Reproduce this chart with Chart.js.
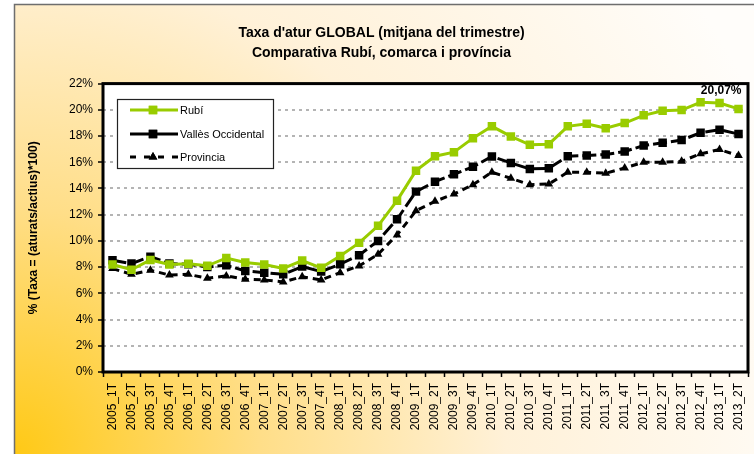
<!DOCTYPE html>
<html>
<head>
<meta charset="utf-8">
<script src="https://cdn.jsdelivr.net/npm/chart.js@4.4.0/dist/chart.umd.min.js"></script>
<style>
  html, body { margin: 0; padding: 0; background: #fff; }
  #wrap { width: 754px; height: 454px; }
</style>
</head>
<body>
<div id="wrap"><canvas id="mainChart" width="754" height="454"></canvas></div>
<script>
// -- Data --
const quarters = [
  "2005_1T", "2005_2T", "2005_3T", "2005_4T",
  "2006_1T", "2006_2T", "2006_3T", "2006_4T",
  "2007_1T", "2007_2T", "2007_3T", "2007_4T",
  "2008_1T", "2008_2T", "2008_3T", "2008_4T",
  "2009_1T", "2009_2T", "2009_3T", "2009_4T",
  "2010_1T", "2010_2T", "2010_3T", "2010_4T",
  "2011_1T", "2011_2T", "2011_3T", "2011_4T",
  "2012_1T", "2012_2T", "2012_3T", "2012_4T",
  "2013_1T", "2013_2T",
];

const rubi = [
  8.2, 7.8, 8.55, 8.2, 8.25, 8.1, 8.7, 8.35, 8.2, 7.9, 8.5, 7.95,
  8.85, 9.85, 11.15, 13.07, 15.36, 16.46, 16.77, 17.84, 18.74, 17.97,
  17.33, 17.38, 18.74, 18.94, 18.6, 18.99, 19.58, 19.93, 19.98, 20.57,
  20.52, 20.07,
];

const valles = [
  8.52, 8.27, 8.8, 8.27, 8.22, 8.01, 8.14, 7.71, 7.58, 7.45, 8.04, 7.66,
  8.22, 8.91, 10.0, 11.65, 13.76, 14.52, 15.08, 15.65, 16.44, 15.95,
  15.49, 15.54, 16.46, 16.51, 16.59, 16.82, 17.28, 17.48, 17.69, 18.25,
  18.48, 18.15,
];

const provincia = [
  7.89, 7.45, 7.76, 7.4, 7.45, 7.15, 7.33, 7.07, 7.02, 6.87, 7.27, 7.02,
  7.58, 8.09, 8.98, 10.46, 12.3, 13.02, 13.58, 14.29, 15.24, 14.78,
  14.29, 14.34, 15.24, 15.24, 15.16, 15.57, 16.0, 16.0, 16.08, 16.64,
  16.97, 16.51,
];

const seriesNames = ["Rubí", "Vallès Occidental", "Provincia"];

const FONT = "Arial, 'Liberation Sans', sans-serif";

// -- Background: gradient frame + white plot area --
const backgroundPlugin = {
  id: "background",
  beforeDraw(chart) {
    const { ctx, chartArea, width, height } = chart;
    ctx.save();
    ctx.fillStyle = "#ffffff";
    ctx.fillRect(0, 0, width, height);

    const grad = ctx.createRadialGradient(14, height, 0, 14, height, 820);
    grad.addColorStop(0, "#ffc915");
    grad.addColorStop(0.3, "#ffde88");
    grad.addColorStop(0.6, "#fff1d8");
    grad.addColorStop(1, "#fffdfa");
    ctx.fillStyle = grad;
    ctx.fillRect(14, 4, width - 14, height - 4);
    ctx.strokeStyle = "#6e6e6e";
    ctx.lineWidth = 1.5;
    ctx.strokeRect(14.5, 4.5, width, height);

    ctx.fillStyle = "#ffffff";
    ctx.fillRect(chartArea.left, chartArea.top,
      chartArea.right - chartArea.left, chartArea.bottom - chartArea.top);
    ctx.restore();
  },
  afterDraw(chart) {
    const { ctx, chartArea } = chart;
    ctx.save();
    ctx.strokeStyle = "#000";
    ctx.lineWidth = 3;
    ctx.strokeRect(chartArea.left, chartArea.top,
      chartArea.right - chartArea.left, chartArea.bottom - chartArea.top);
    ctx.restore();
  },
};

// -- Boxed legend inside the plot --
const boxLegendPlugin = {
  id: "boxLegend",
  afterDraw(chart) {
    const { ctx } = chart;
    const rows = [110, 134, 157];
    ctx.save();
    ctx.fillStyle = "#fff";
    ctx.fillRect(117, 99, 156, 69);
    ctx.strokeStyle = "#222";
    ctx.lineWidth = 1.2;
    ctx.strokeRect(117.5, 99.5, 156, 69);

    chart.data.datasets.forEach((ds, i) => {
      const y = rows[i];
      ctx.strokeStyle = ds.borderColor;
      ctx.lineWidth = ds.borderWidth;
      ctx.setLineDash(ds.legendDash || []);
      ctx.beginPath();
      ctx.moveTo(130, y);
      ctx.lineTo(178, y);
      ctx.stroke();
      ctx.setLineDash([]);
      ctx.fillStyle = ds.pointBackgroundColor;
      Chart.helpers.drawPoint(ctx, {
        pointStyle: ds.pointStyle,
        radius: ds.pointRadius,
        borderWidth: 0,
        rotation: 0,
      }, 153, y);
      ctx.fill();

      ctx.fillStyle = "#000";
      ctx.font = "11px " + FONT;
      ctx.textAlign = "left";
      ctx.textBaseline = "middle";
      ctx.fillText(ds.label, 180, y + 1);
    });
    ctx.restore();
  },
};

// -- Value label on the last Rubí point --
const lastLabelPlugin = {
  id: "lastLabel",
  afterDatasetsDraw(chart) {
    const { ctx } = chart;
    const meta = chart.getDatasetMeta(0);
    const last = meta.data[meta.data.length - 1];
    const value = rubi[rubi.length - 1];
    ctx.save();
    ctx.fillStyle = "#000";
    ctx.font = "bold 12px " + FONT;
    ctx.textAlign = "right";
    ctx.textBaseline = "middle";
    ctx.fillText(value.toFixed(2).replace(".", ",") + "%", last.x + 3, last.y - 18);
    ctx.restore();
  },
};

const ctx = document.getElementById("mainChart").getContext("2d");

new Chart(ctx, {
  type: "line",
  data: {
    labels: quarters,
    datasets: [
      {
        label: seriesNames[0],
        data: rubi,
        borderColor: "#99cc00",
        backgroundColor: "#99cc00",
        pointBackgroundColor: "#99cc00",
        pointBorderColor: "#99cc00",
        borderWidth: 3,
        pointStyle: "rect",
        pointRadius: 6,
        pointBorderWidth: 0,
        tension: 0,
        legendDash: [],
      },
      {
        label: seriesNames[1],
        data: valles,
        borderColor: "#000000",
        backgroundColor: "#000000",
        pointBackgroundColor: "#000000",
        pointBorderColor: "#000000",
        borderWidth: 3,
        borderDash: [14, 4],
        pointStyle: "rect",
        pointRadius: 6,
        pointBorderWidth: 0,
        tension: 0,
        legendDash: [],
      },
      {
        label: seriesNames[2],
        data: provincia,
        borderColor: "#000000",
        backgroundColor: "#000000",
        pointBackgroundColor: "#000000",
        pointBorderColor: "#000000",
        borderWidth: 3,
        borderDash: [7, 5],
        pointStyle: "triangle",
        pointRadius: 5,
        pointBorderWidth: 0,
        tension: 0,
        legendDash: [6, 8],
      },
    ],
  },
  options: {
    responsive: false,
    devicePixelRatio: 1,
    animation: false,
    layout: {
      padding: { left: 14, right: 5, top: 0, bottom: 0 },
    },
    plugins: {
      legend: { display: false },
      tooltip: { enabled: false },
      title: {
        display: true,
        text: [
          "Taxa d'atur GLOBAL (mitjana del trimestre)",
          "Comparativa Rubí, comarca i província",
        ],
        color: "#000",
        font: { family: FONT, size: 14, weight: "bold", lineHeight: 1.45 },
        padding: { top: 23, bottom: 20 },
      },
    },
    scales: {
      x: {
        type: "category",
        offset: true,
        afterFit(scale) {
          scale.height = 82;
          // keep the rotated end labels from shrinking the plot
          scale.paddingLeft = 0;
          scale.paddingRight = 0;
        },
        grid: {
          display: true,
          drawOnChartArea: false,
          drawTicks: true,
          tickLength: 5,
          tickColor: "#000",
          tickWidth: 1.5,
          offset: true,
        },
        border: { display: false },
        ticks: {
          autoSkip: false,
          minRotation: 90,
          maxRotation: 90,
          padding: 6,
          color: "#000",
          font: { family: FONT, size: 12 },
        },
      },
      y: {
        min: 0,
        max: 22,
        afterFit(scale) {
          scale.width = 89;
        },
        grid: {
          color: "#b4b4b4",
          lineWidth: 2,
          drawTicks: true,
          tickLength: 5,
          tickColor: "#000",
          tickWidth: 1.5,
          tickBorderDash: [],
        },
        border: { display: false, dash: [3, 4] },
        ticks: {
          stepSize: 2,
          padding: 5,
          color: "#000",
          font: { family: FONT, size: 12 },
          callback: function (value) {
            return value + "%";
          },
        },
        title: {
          display: true,
          text: "% (Taxa = (aturats/actius)*100)",
          color: "#000",
          font: { family: FONT, size: 12, weight: "bold" },
          padding: { top: 12, bottom: 0 },
        },
      },
    },
  },
  plugins: [backgroundPlugin, boxLegendPlugin, lastLabelPlugin],
});
</script>
</body>
</html>
